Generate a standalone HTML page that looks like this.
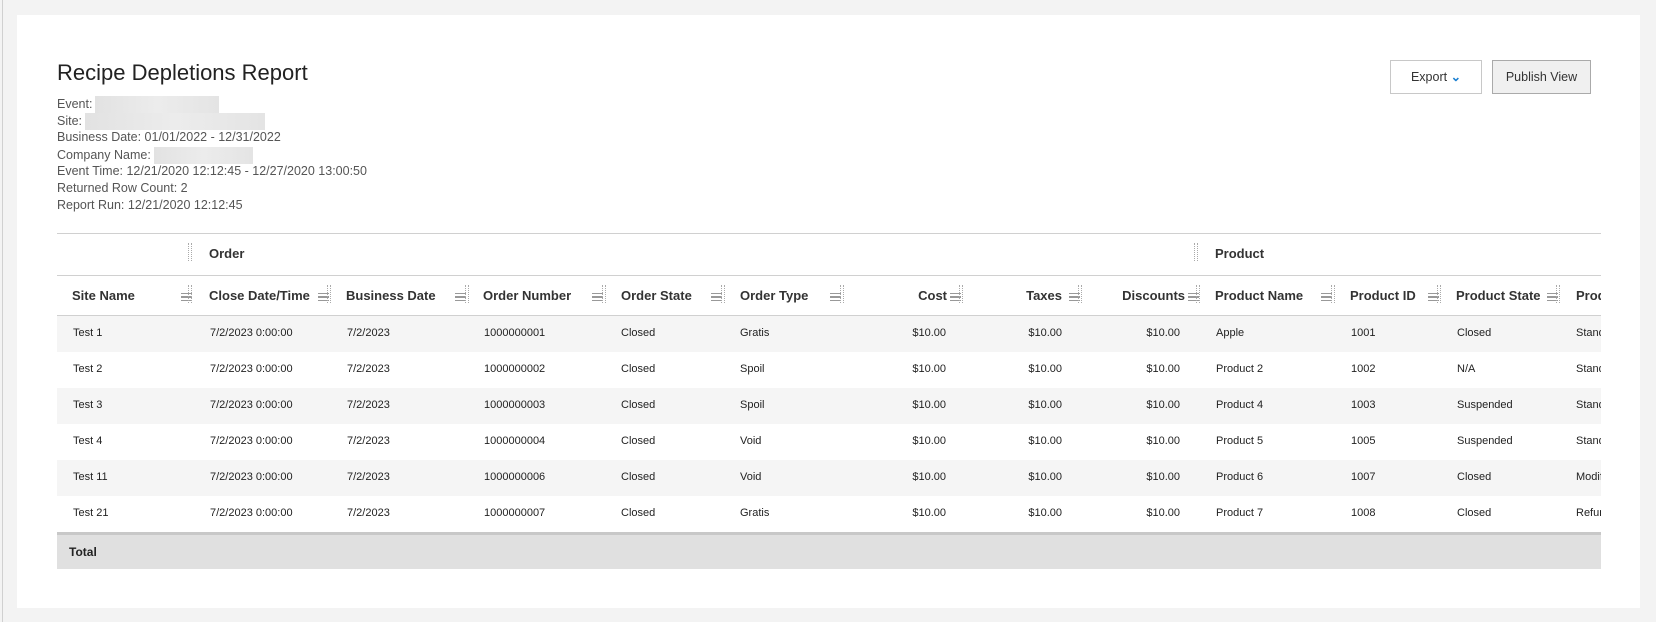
<!DOCTYPE html>
<html><head><meta charset="utf-8"><style>
*{margin:0;padding:0;box-sizing:border-box}
body{width:1656px;height:622px;background:#f3f3f3;font-family:"Liberation Sans",sans-serif;color:#222;position:relative;overflow:hidden}
.lb{position:absolute;left:2px;top:0;width:1px;height:622px;background:#d0d0d0}
.card{position:absolute;left:17px;top:15px;width:1623px;height:593px;background:#fff}
.t{position:absolute;left:57px;top:60px;font-size:22px;color:#222}
.meta{position:absolute;left:57px;font-size:12.5px;color:#555}
.blur{display:inline-block;height:17px;vertical-align:middle;background:linear-gradient(90deg,#e2e2e2,#ececec,#e4e4e4);margin-left:3px}
.btn{position:absolute;top:60px;height:34px;border:1px solid #c8c8c8;font-size:12.5px;color:#333;text-align:center;line-height:32px}
.tbl{position:absolute;left:57px;top:233px;width:1544px;height:336px;overflow:hidden}
.a{position:absolute;white-space:nowrap}
.row{position:absolute;left:0;width:1544px;height:36px;font-size:11px;color:#222}
.row .a{top:11px}
.h{font-size:13px;font-weight:bold;color:#333}
.ic{position:absolute;width:11px;height:8px;border-top:1.5px solid #999;border-bottom:1.5px solid #999}
.ic:after{content:"";position:absolute;left:0;right:0;top:2px;height:1.5px;background:#999}
.sep{position:absolute;width:4px;height:18px;border-left:1px dotted #aaa;border-right:1px dotted #aaa}
</style></head><body>
<div class="lb"></div>
<div class="card"></div>
<div class="t">Recipe Depletions Report</div>
<div class="meta" style="top:96px">Event:<span class="blur" style="width:124px"></span></div>
<div class="meta" style="top:113px">Site:<span class="blur" style="width:180px"></span></div>
<div class="meta" style="top:130px">Business Date: 01/01/2022 - 12/31/2022</div>
<div class="meta" style="top:147px">Company Name:<span class="blur" style="width:99px"></span></div>
<div class="meta" style="top:164px">Event Time: 12/21/2020 12:12:45 - 12/27/2020 13:00:50</div>
<div class="meta" style="top:181px">Returned Row Count: 2</div>
<div class="meta" style="top:198px">Report Run: 12/21/2020 12:12:45</div>
<div class="btn" style="left:1390px;width:92px;background:#fff">Export <span style="color:#1a7fd0;font-weight:bold">&#8964;</span></div>
<div class="btn" style="left:1492px;width:99px;background:#f0f0f0;border-color:#aaa">Publish View</div>

<div class="tbl">
 <div class="a" style="left:0;top:0;width:1544px;height:1px;background:#d0d0d0"></div>
 <div class="sep" style="left:131px;top:10px"></div>
 <div class="a h" style="left:152px;top:13px">Order</div>
 <div class="sep" style="left:1137px;top:10px"></div>
 <div class="a h" style="left:1158px;top:13px">Product</div>
 <div class="a" style="left:0;top:42px;width:1544px;height:1px;background:#d0d0d0"></div>
 <div class="a h" style="left:15px;top:55px">Site Name</div>
 <div class="a h" style="left:152px;top:55px">Close Date/Time</div>
 <div class="a h" style="left:289px;top:55px">Business Date</div>
 <div class="a h" style="left:426px;top:55px">Order Number</div>
 <div class="a h" style="left:564px;top:55px">Order State</div>
 <div class="a h" style="left:683px;top:55px">Order Type</div>
 <div class="a h" style="left:820px;top:55px;width:70px;text-align:right">Cost</div>
 <div class="a h" style="left:900px;top:55px;width:105px;text-align:right">Taxes</div>
 <div class="a h" style="left:1000px;top:55px;width:128px;text-align:right">Discounts</div>
 <div class="a h" style="left:1158px;top:55px">Product Name</div>
 <div class="a h" style="left:1293px;top:55px">Product ID</div>
 <div class="a h" style="left:1399px;top:55px">Product State</div>
 <div class="a h" style="left:1519px;top:55px">Product Type</div>
 <div class="ic" style="left:124px;top:60px"></div><div class="sep" style="left:131px;top:52px"></div>
 <div class="ic" style="left:261px;top:60px"></div><div class="sep" style="left:270px;top:52px"></div>
 <div class="ic" style="left:398px;top:60px"></div><div class="sep" style="left:408px;top:52px"></div>
 <div class="ic" style="left:535px;top:60px"></div><div class="sep" style="left:545px;top:52px"></div>
 <div class="ic" style="left:654px;top:60px"></div><div class="sep" style="left:664px;top:52px"></div>
 <div class="ic" style="left:773px;top:60px"></div><div class="sep" style="left:783px;top:52px"></div>
 <div class="ic" style="left:893px;top:60px"></div><div class="sep" style="left:902px;top:52px"></div>
 <div class="ic" style="left:1012px;top:60px"></div><div class="sep" style="left:1021px;top:52px"></div>
 <div class="ic" style="left:1131px;top:60px"></div><div class="sep" style="left:1139px;top:52px"></div>
 <div class="ic" style="left:1264px;top:60px"></div><div class="sep" style="left:1274px;top:52px"></div>
 <div class="ic" style="left:1371px;top:60px"></div><div class="sep" style="left:1380px;top:52px"></div>
 <div class="ic" style="left:1490px;top:60px"></div><div class="sep" style="left:1499px;top:52px"></div>
 <div class="a" style="left:0;top:82px;width:1544px;height:1px;background:#d0d0d0"></div>

 <div class="row" style="top:83px;background:#f5f5f5"><span class="a" style="left:16px">Test 1</span><span class="a" style="left:153px">7/2/2023 0:00:00</span><span class="a" style="left:290px">7/2/2023</span><span class="a" style="left:427px">1000000001</span><span class="a" style="left:564px">Closed</span><span class="a" style="left:683px">Gratis</span><span class="a" style="left:800px;width:89px;text-align:right">$10.00</span><span class="a" style="left:916px;width:89px;text-align:right">$10.00</span><span class="a" style="left:1034px;width:89px;text-align:right">$10.00</span><span class="a" style="left:1159px">Apple</span><span class="a" style="left:1294px">1001</span><span class="a" style="left:1400px">Closed</span><span class="a" style="left:1519px">Standard</span></div>
 <div class="row" style="top:119px"><span class="a" style="left:16px">Test 2</span><span class="a" style="left:153px">7/2/2023 0:00:00</span><span class="a" style="left:290px">7/2/2023</span><span class="a" style="left:427px">1000000002</span><span class="a" style="left:564px">Closed</span><span class="a" style="left:683px">Spoil</span><span class="a" style="left:800px;width:89px;text-align:right">$10.00</span><span class="a" style="left:916px;width:89px;text-align:right">$10.00</span><span class="a" style="left:1034px;width:89px;text-align:right">$10.00</span><span class="a" style="left:1159px">Product 2</span><span class="a" style="left:1294px">1002</span><span class="a" style="left:1400px">N/A</span><span class="a" style="left:1519px">Standard</span></div>
 <div class="row" style="top:155px;background:#f5f5f5"><span class="a" style="left:16px">Test 3</span><span class="a" style="left:153px">7/2/2023 0:00:00</span><span class="a" style="left:290px">7/2/2023</span><span class="a" style="left:427px">1000000003</span><span class="a" style="left:564px">Closed</span><span class="a" style="left:683px">Spoil</span><span class="a" style="left:800px;width:89px;text-align:right">$10.00</span><span class="a" style="left:916px;width:89px;text-align:right">$10.00</span><span class="a" style="left:1034px;width:89px;text-align:right">$10.00</span><span class="a" style="left:1159px">Product 4</span><span class="a" style="left:1294px">1003</span><span class="a" style="left:1400px">Suspended</span><span class="a" style="left:1519px">Standard</span></div>
 <div class="row" style="top:191px"><span class="a" style="left:16px">Test 4</span><span class="a" style="left:153px">7/2/2023 0:00:00</span><span class="a" style="left:290px">7/2/2023</span><span class="a" style="left:427px">1000000004</span><span class="a" style="left:564px">Closed</span><span class="a" style="left:683px">Void</span><span class="a" style="left:800px;width:89px;text-align:right">$10.00</span><span class="a" style="left:916px;width:89px;text-align:right">$10.00</span><span class="a" style="left:1034px;width:89px;text-align:right">$10.00</span><span class="a" style="left:1159px">Product 5</span><span class="a" style="left:1294px">1005</span><span class="a" style="left:1400px">Suspended</span><span class="a" style="left:1519px">Standard</span></div>
 <div class="row" style="top:227px;background:#f5f5f5"><span class="a" style="left:16px">Test 11</span><span class="a" style="left:153px">7/2/2023 0:00:00</span><span class="a" style="left:290px">7/2/2023</span><span class="a" style="left:427px">1000000006</span><span class="a" style="left:564px">Closed</span><span class="a" style="left:683px">Void</span><span class="a" style="left:800px;width:89px;text-align:right">$10.00</span><span class="a" style="left:916px;width:89px;text-align:right">$10.00</span><span class="a" style="left:1034px;width:89px;text-align:right">$10.00</span><span class="a" style="left:1159px">Product 6</span><span class="a" style="left:1294px">1007</span><span class="a" style="left:1400px">Closed</span><span class="a" style="left:1519px">Modifier</span></div>
 <div class="row" style="top:263px"><span class="a" style="left:16px">Test 21</span><span class="a" style="left:153px">7/2/2023 0:00:00</span><span class="a" style="left:290px">7/2/2023</span><span class="a" style="left:427px">1000000007</span><span class="a" style="left:564px">Closed</span><span class="a" style="left:683px">Gratis</span><span class="a" style="left:800px;width:89px;text-align:right">$10.00</span><span class="a" style="left:916px;width:89px;text-align:right">$10.00</span><span class="a" style="left:1034px;width:89px;text-align:right">$10.00</span><span class="a" style="left:1159px">Product 7</span><span class="a" style="left:1294px">1008</span><span class="a" style="left:1400px">Closed</span><span class="a" style="left:1519px">Refund</span></div>
 <div class="a" style="left:0;top:299px;width:1544px;height:37px;background:#e0e0e0;border-top:3px solid #c8c8c8"></div>
 <div class="a" style="left:12px;top:312px;font-size:12px;font-weight:bold;color:#222">Total</div>
</div>
</body></html>
